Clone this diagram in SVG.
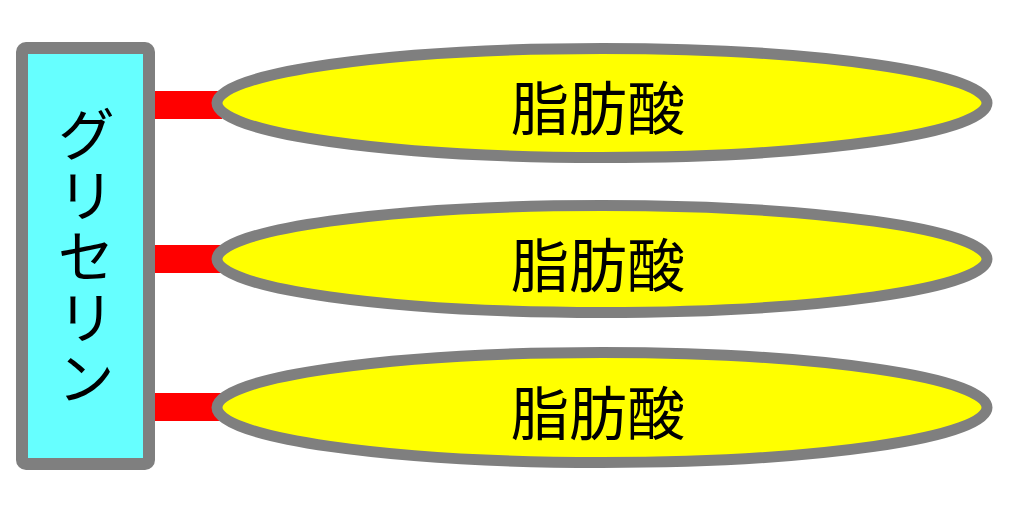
<svg xmlns="http://www.w3.org/2000/svg" width="1024" height="512" viewBox="0 0 1024 512">
<style>
.bond{fill:#FF0000;}
.gly{fill:#66FFFF;stroke:#7F7F7F;stroke-width:12;}
.fa{fill:#FFFF00;stroke:#7F7F7F;stroke-width:11;}
.lbl{font-family:"Noto Sans CJK JP","Noto Sans CJK SC",sans-serif;font-size:58px;fill:#000;text-anchor:middle;}
.vert{font-family:"Noto Sans CJK JP","Noto Sans CJK SC",sans-serif;font-size:58px;fill:#000;writing-mode:vertical-rl;text-orientation:upright;letter-spacing:3px;}
</style>
<rect width="1024" height="512" fill="#FFFFFF"/>
<g id="connectors">
<rect class="bond" x="150" y="91" width="72" height="28"/>
<rect class="bond" x="150" y="245" width="72" height="28"/>
<rect class="bond" x="150" y="393" width="72" height="28"/>
</g>
<g id="glycerin">
<rect class="gly" x="22" y="48" width="127" height="416" rx="4"/>
<text class="vert" x="86" y="105">グリセリン</text>
</g>
<g id="fatty-acid-1">
<ellipse class="fa" cx="602" cy="103" rx="385" ry="54.5"/>
<text class="lbl" x="598" y="130">脂肪酸</text>
</g>
<g id="fatty-acid-2">
<ellipse class="fa" cx="602" cy="259" rx="385" ry="53.5"/>
<text class="lbl" x="598" y="287">脂肪酸</text>
</g>
<g id="fatty-acid-3">
<ellipse class="fa" cx="602" cy="407.5" rx="385" ry="55"/>
<text class="lbl" x="598" y="435">脂肪酸</text>
</g>
</svg>
